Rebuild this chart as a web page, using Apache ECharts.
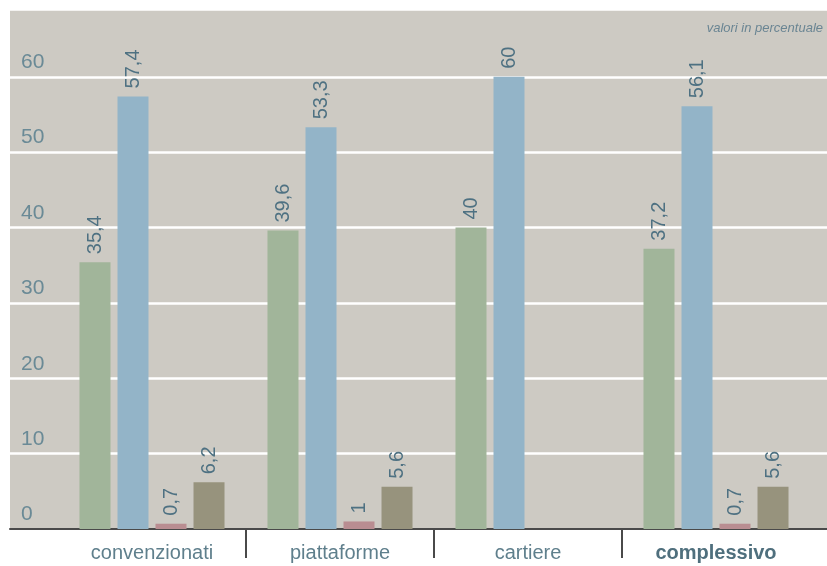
<!DOCTYPE html>
<html>
<head>
<meta charset="utf-8">
<script src="https://cdn.jsdelivr.net/npm/echarts@6/dist/echarts.min.js"></script>
<style>
  html, body { margin: 0; padding: 0; background: #ffffff; }
  #chart { width: 827px; height: 566px; }
</style>
</head>
<body>
<div id="chart"></div>
<script>
// Categories and series values (percent)
const categories = ['convenzionati', 'piattaforme', 'cartiere', 'complessivo'];
const serieVerde = [35.4, 39.6, 40, 37.2];
const serieBlu = [57.4, 53.3, 60, 56.1];
const serieRosa = [0.7, 1, null, 0.7];
const serieOliva = [6.2, 5.6, null, 5.6];
const yTicks = [0, 10, 20, 30, 40, 50, 60];
const yMax = 69;
const dividerPositions = [1, 2, 3];

const fontFamily = '"Liberation Sans", Arial, sans-serif';

function valueLabel() {
  return {
    show: true,
    position: 'top',
    rotate: 90,
    align: 'left',
    verticalAlign: 'middle',
    distance: 8,
    color: '#4e7182',
    fontSize: 20,
    fontFamily: fontFamily,
    formatter: p => (p.value == null ? '' : String(p.value).replace('.', ','))
  };
}

function barSeries(name, data, color) {
  return {
    name: name,
    type: 'bar',
    xAxisIndex: 1,
    yAxisIndex: 1,
    data: data,
    barWidth: 31,
    barGap: '22.6%',
    itemStyle: { color: color },
    label: valueLabel(),
    silent: true
  };
}

const chart = echarts.init(document.getElementById('chart'), null, { renderer: 'canvas' });

chart.setOption({
  animation: false,
  backgroundColor: '#ffffff',
  title: {
    text: 'valori in percentuale',
    right: 4,
    top: 22,
    padding: 0,
    textStyle: {
      fontStyle: 'italic',
      fontWeight: 'normal',
      fontSize: 13,
      color: '#6a8593',
      fontFamily: fontFamily
    }
  },
  grid: [
    { left: 10, right: 0, top: 9, bottom: 37, show: true, backgroundColor: '#cdcac3', borderWidth: 0 },
    { left: 58, right: 17, top: 9, bottom: 37 }
  ],
  xAxis: [
    {
      gridIndex: 0, type: 'value', min: 0, max: 1, position: 'bottom',
      axisLine: { show: true, lineStyle: { color: '#4a4a4a', width: 2 } },
      axisTick: { show: false }, axisLabel: { show: false }, splitLine: { show: false }
    },
    {
      gridIndex: 1, type: 'category', data: categories, position: 'bottom',
      axisLine: { show: false }, axisTick: { show: false }, splitLine: { show: false },
      axisLabel: {
        margin: 14,
        fontSize: 20,
        color: '#5f7f8c',
        fontFamily: fontFamily,
        formatter: v => (v === 'complessivo' ? '{b|' + v + '}' : v),
        rich: {
          b: { fontSize: 20, fontWeight: 'bold', color: '#4f6f7d', fontFamily: fontFamily }
        }
      }
    },
    {
      // separators between the category groups
      gridIndex: 1, type: 'value', min: 0, max: categories.length, position: 'bottom', offset: 0,
      axisLine: { show: false }, axisLabel: { show: false }, splitLine: { show: false },
      axisTick: {
        show: true, length: 29, customValues: dividerPositions,
        lineStyle: { color: '#4a4a4a', width: 2 }
      }
    }
  ],
  yAxis: [
    {
      gridIndex: 0, type: 'value', min: 0, max: yMax, interval: 10,
      axisLine: { show: false }, axisTick: { show: false },
      splitLine: { show: true, lineStyle: { color: '#ffffff', width: 2.5 } },
      axisLabel: {
        inside: true,
        margin: 11,
        verticalAlign: 'bottom',
        padding: [0, 0, 4, 0],
        fontSize: 21,
        color: '#6a8a96',
        fontFamily: fontFamily,
        formatter: v => (yTicks.includes(v) ? String(v) : '')
      }
    },
    { gridIndex: 1, type: 'value', min: 0, max: yMax, show: false }
  ],
  series: [
    barSeries('verde', serieVerde, '#a1b59a'),
    barSeries('blu', serieBlu, '#93b4c8'),
    barSeries('rosa', serieRosa, '#b98d91'),
    barSeries('oliva', serieOliva, '#97937d')
  ]
});
</script>
</body>
</html>
